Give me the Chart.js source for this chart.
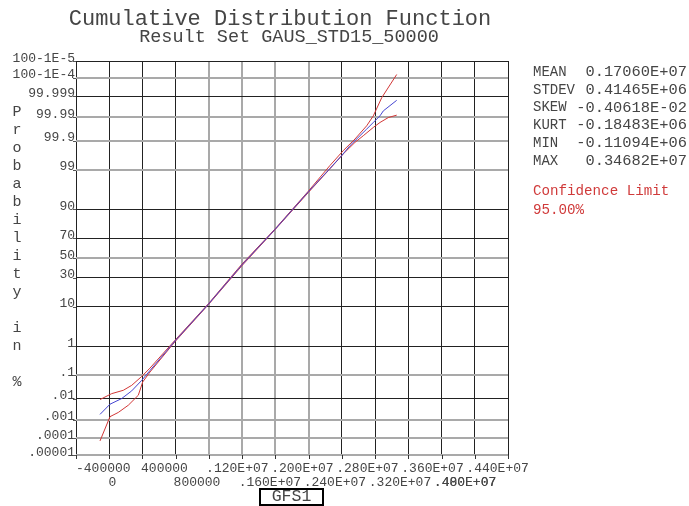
<!DOCTYPE html>
<html>
<head>
<meta charset="utf-8">
<script src="https://cdn.jsdelivr.net/npm/chart.js@4.4.1/dist/chart.umd.min.js"></script>
<style>
  body { margin: 0; background: #fff; }
  canvas { display: block; }
</style>
</head>
<body>
<canvas id="cdfChart" width="689" height="506"></canvas>
<script>
// probability axis ticks (in %)
const yTickPct = [0.00001, 0.0001, 0.001, 0.01, 0.1, 1, 10, 30, 50, 70, 90, 99, 99.9, 99.99, 99.999, 99.9999, 99.99999];
const yTickText = ['.00001', '.0001', '.001', '.01', '.1', '1', '10', '30', '50', '70', '90', '99', '99.9', '99.99', '99.999', '100-1E-4', '100-1E-5'];

// x axis ticks
const xTicks = [-400000, 0, 400000, 800000, 1200000, 1600000, 2000000, 2400000, 2800000, 3200000, 3600000, 4000000, 4400000, 4800000];
const xTickText = ['-400000', '0', '400000', '800000', '.120E+07', '.160E+07', '.200E+07', '.240E+07', '.280E+07', '.320E+07', '.360E+07', '.400E+07', '.440E+07', '.480E+07'];

// empirical CDF (blue)
const blueX = [-111100, 9300, 150100, 270500, 390800, 490700, 791700, 1192500, 1594500, 1995400, 2396200, 2657500, 2798300, 2898100, 3018500, 3099100, 3178600, 3259200, 3298900, 3460200];
const blueP = [0.00183, 0.0057, 0.0104, 0.0226, 0.062, 0.149, 1.43, 11.08, 42.5, 77.5, 95.96, 99.10, 99.657, 99.849, 99.9377, 99.9667, 99.9826, 99.9912, 99.99482, 99.99842];

// confidence limits (red)
const upperX = [-111100, 29700, 169300, 270500, 390800, 490700, 791700, 1192500, 1594500, 1995400, 2396200, 2657500, 2817600, 2958400, 3099100, 3178600, 3279700, 3460200];
const upperP = [0.00935, 0.0172, 0.024, 0.0388, 0.0886, 0.183, 1.5, 11.3, 43.3, 77.8, 96.1, 99.27, 99.771, 99.9158, 99.9758, 99.9912, 99.99883, 99.999936];
const lowerX = [-111100, 9300, 109200, 229600, 349900, 402900, 490700, 791700, 1192500, 1594500, 1995400, 2396200, 2657500, 2817600, 2958400, 3058300, 3178600, 3259200, 3359100, 3460200];
const lowerP = [0.000069, 0.00141, 0.00229, 0.0051, 0.0146, 0.0534, 0.131, 1.36, 10.85, 41.7, 77.2, 95.8, 99.076, 99.701, 99.8864, 99.9377, 99.9715, 99.9826, 99.9895, 99.99184];

// summary statistics
const statNames = ['MEAN', 'STDEV', 'SKEW', 'KURT', 'MIN', 'MAX'];
const statValues = ['0.17060E+07', '0.41465E+06', '-0.40618E-02', '-0.18483E+06', '-0.11094E+06', '0.34682E+07'];

// grid line shading as seen in the picture
const xGray = [4, 5, 6, 7];
const yGray = [0, 1, 2, 4, 8, 11, 12, 13, 15];

// inverse normal CDF (Acklam)
function probit(p) {
  const a = [-3.969683028665376e+01, 2.209460984245205e+02, -2.759285104469687e+02, 1.383577518672690e+02, -3.066479806614716e+01, 2.506628277459239e+00];
  const b = [-5.447609879822406e+01, 1.615858368580409e+02, -1.556989798598866e+02, 6.680131188771972e+01, -1.328068155288572e+01];
  const c = [-7.784894002430293e-03, -3.223964580411365e-01, -2.400758277161838e+00, -2.549671348254714e+00, 4.374664141464968e+00, 2.938163982698783e+00];
  const d = [7.784695709041462e-03, 3.224671290700398e-01, 2.445134137142996e+00, 3.754408661907416e+00];
  const pl = 0.02425;
  let q, r;
  if (p < pl) {
    q = Math.sqrt(-2 * Math.log(p));
    return (((((c[0]*q+c[1])*q+c[2])*q+c[3])*q+c[4])*q+c[5]) / ((((d[0]*q+d[1])*q+d[2])*q+d[3])*q+1);
  }
  if (p > 1 - pl) {
    q = Math.sqrt(-2 * Math.log(1 - p));
    return -(((((c[0]*q+c[1])*q+c[2])*q+c[3])*q+c[4])*q+c[5]) / ((((d[0]*q+d[1])*q+d[2])*q+d[3])*q+1);
  }
  q = p - 0.5;
  r = q * q;
  return (((((a[0]*r+a[1])*r+a[2])*r+a[3])*r+a[4])*r+a[5])*q / (((((b[0]*r+b[1])*r+b[2])*r+b[3])*r+b[4])*r+1);
}

const toPoints = (xs, ps) => xs.map((x, i) => ({ x: x, y: probit(ps[i] / 100) }));
const yMin = probit(yTickPct[0] / 100);
const yMax = probit(yTickPct[yTickPct.length - 1] / 100);

const MONO = '"Liberation Mono", "DejaVu Sans Mono", monospace';
const TEXT = '#454545';

const decorations = {
  id: 'decorations',
  beforeDraw(chart) {
    const ctx = chart.ctx;
    ctx.save();
    ctx.fillStyle = '#fff';
    ctx.fillRect(0, 0, chart.width, chart.height);
    ctx.restore();
  },
  afterDraw(chart) {
    const ctx = chart.ctx;
    const area = chart.chartArea;
    const xs = chart.scales.x;
    const ys = chart.scales.y;
    ctx.save();

    // titles
    ctx.fillStyle = TEXT;
    ctx.textAlign = 'center';
    ctx.textBaseline = 'middle';
    ctx.font = '22px ' + MONO;
    ctx.fillText('Cumulative Distribution Function', 280, 19);
    ctx.font = '18.5px ' + MONO;
    ctx.fillText('Result Set GAUS_STD15_50000', 289, 37);

    // y tick labels + stubs
    ctx.font = '13px ' + MONO;
    ctx.textAlign = 'right';
    ctx.textBaseline = 'alphabetic';
    ctx.strokeStyle = '#555';
    ctx.lineWidth = 1;
    yTickPct.forEach((p, i) => {
      const py = ys.getPixelForValue(probit(p / 100));
      ctx.fillText(yTickText[i], area.left - 1, py + 0.5);
      ctx.beginPath();
      ctx.moveTo(area.left - 3, Math.round(py) + 0.5);
      ctx.lineTo(area.left, Math.round(py) + 0.5);
      ctx.stroke();
    });

    // vertical axis title, one letter per line
    ctx.font = '15px ' + MONO;
    ctx.textAlign = 'center';
    ctx.textBaseline = 'middle';
    const letters = 'Probability in %';
    for (let i = 0; i < letters.length; i++) {
      ctx.fillText(letters[i], 17, 112 + i * 18);
    }

    // x tick marks and two-row labels
    ctx.strokeStyle = '#333';
    ctx.font = '13px ' + MONO;
    ctx.textAlign = 'left';
    ctx.textBaseline = 'middle';
    ctx.save();
    ctx.beginPath();
    ctx.rect(0, area.bottom, 536, chart.height - area.bottom);
    ctx.clip();
    const starts = [];
    xTicks.forEach((v, i) => {
      const px = Math.round(xs.getPixelForValue(v)) + 0.5;
      ctx.beginPath();
      ctx.moveTo(px, area.bottom);
      ctx.lineTo(px, area.bottom + 4);
      ctx.stroke();
      let sx = xs.getPixelForValue(v) - 0.7 * i;
      const w = ctx.measureText(xTickText[i]).width;
      if (sx + w > area.right + 2 && i % 2 === 1) sx = starts[i - 2];
      starts[i] = sx;
      ctx.fillText(xTickText[i], sx, i % 2 === 0 ? 469 : 483);
    });
    ctx.restore();

    // axis name box
    ctx.strokeStyle = '#000';
    ctx.lineWidth = 2;
    ctx.strokeRect(260, 489, 63, 16);
    ctx.fillStyle = TEXT;
    ctx.font = '16.5px ' + MONO;
    ctx.textAlign = 'center';
    ctx.fillText('GFS1', 291.5, 497);

    // statistics panel
    statNames.forEach((name, i) => {
      const y = 72 + i * 17.8;
      ctx.font = '14px ' + MONO;
      ctx.textAlign = 'left';
      ctx.fillText(name, 533, y);
      ctx.font = '15.4px ' + MONO;
      ctx.textAlign = 'right';
      ctx.fillText(statValues[i], 687, y);
    });
    ctx.font = '14.2px ' + MONO;
    ctx.fillStyle = '#d03a3a';
    ctx.textAlign = 'left';
    ctx.fillText('Confidence Limit', 533, 191);
    ctx.fillText('95.00%', 533, 210);

    ctx.restore();
  }
};

new Chart(document.getElementById('cdfChart').getContext('2d'), {
  type: 'scatter',
  data: {
    datasets: [
      {
        label: 'CDF',
        data: toPoints(blueX, blueP),
        showLine: true,
        borderColor: 'rgba(70, 70, 210, 1)',
        borderWidth: 1,
        pointRadius: 0,
        tension: 0
      },
      {
        label: 'Upper limit',
        data: toPoints(upperX, upperP),
        showLine: true,
        borderColor: 'rgba(210, 55, 55, 1)',
        borderWidth: 1,
        pointRadius: 0,
        tension: 0
      },
      {
        label: 'Lower limit',
        data: toPoints(lowerX, lowerP),
        showLine: true,
        borderColor: 'rgba(210, 55, 55, 1)',
        borderWidth: 1,
        pointRadius: 0,
        tension: 0
      }
    ]
  },
  options: {
    responsive: false,
    animation: false,
    devicePixelRatio: 1,
    layout: { padding: { left: 76, right: 181, top: 61, bottom: 51 } },
    plugins: {
      legend: { display: false },
      tooltip: { enabled: false },
      title: { display: false }
    },
    scales: {
      x: {
        type: 'linear',
        min: xTicks[0],
        max: xTicks[xTicks.length - 1],
        afterBuildTicks: (scale) => { scale.ticks = xTicks.map(v => ({ value: v })); },
        ticks: { display: false },
        border: { display: false },
        grid: {
          drawTicks: false,
          color: (c) => xGray.includes(c.index) ? '#a9a9a9' : '#222',
          lineWidth: (c) => xGray.includes(c.index) ? 2 : 1
        }
      },
      y: {
        type: 'linear',
        min: yMin,
        max: yMax,
        afterBuildTicks: (scale) => { scale.ticks = yTickPct.map(p => ({ value: probit(p / 100) })); },
        ticks: { display: false },
        border: { display: false },
        grid: {
          drawTicks: false,
          color: (c) => yGray.includes(c.index) ? '#a9a9a9' : '#222',
          lineWidth: (c) => yGray.includes(c.index) ? 2 : 1
        }
      }
    }
  },
  plugins: [decorations]
});
</script>
</body>
</html>
